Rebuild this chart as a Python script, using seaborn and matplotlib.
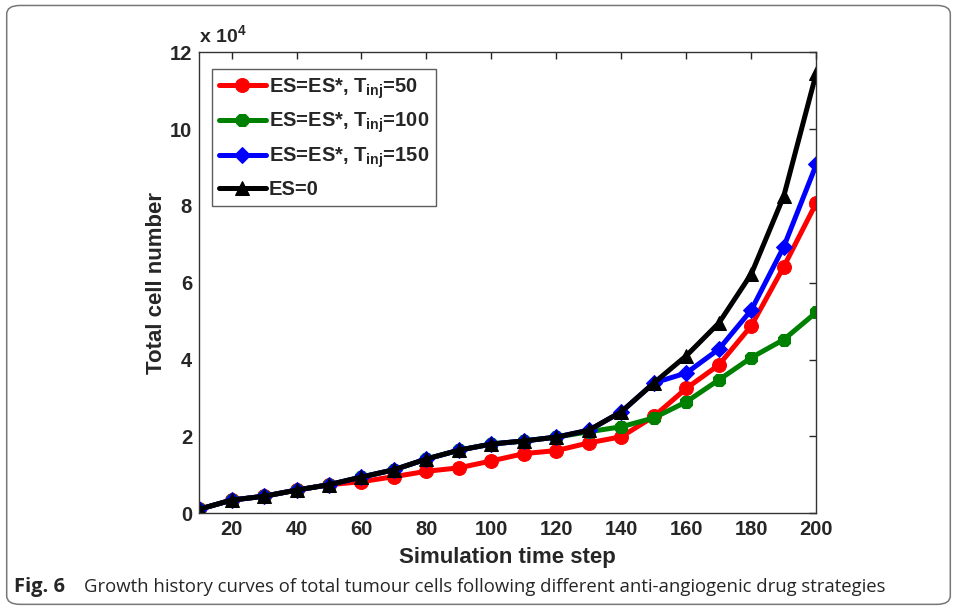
import numpy as np
import pandas as pd
import seaborn as sns
from matplotlib import pyplot as plt
from matplotlib.patches import FancyBboxPatch

# time steps and total cell numbers
steps = [10, 20, 30, 40, 50, 60, 70, 80, 90, 100, 110, 120, 130, 140, 150, 160, 170, 180, 190, 200]
es_zero = [1000, 3400, 4400, 6000, 7400, 9400, 11300, 14100, 16400, 18000, 18800, 19800, 21600, 26400, 33900,
           41000, 49500, 62300, 82600, 114600]
tinj_50 = [1000, 3400, 4400, 6000, 7400, 8200, 9500, 10900, 11800, 13600, 15500, 16300, 18300, 19900, 25200,
           32500, 38600, 48800, 64200, 80800]
tinj_100 = [1000, 3400, 4400, 6000, 7400, 9400, 11300, 14100, 16400, 18000, 18800, 19800, 21200, 22500, 24800,
            29000, 34700, 40500, 45200, 52300]
tinj_150 = [1000, 3400, 4400, 6000, 7400, 9400, 11300, 14100, 16400, 18000, 18800, 19800, 21600, 26400, 33900,
            36500, 42700, 52900, 69400, 90800]

labels = ['ES=ES*, T$_{\\mathbf{inj}}$=50', 'ES=ES*, T$_{\\mathbf{inj}}$=100',
          'ES=ES*, T$_{\\mathbf{inj}}$=150', 'ES=0']
series = [tinj_50, tinj_100, tinj_150, es_zero]
colors = ['#ff0000', '#008000', '#0000ff', '#000000']
markers = ['o', '8', 'D', '^']
msizes = [10, 10, 8, 10]

sns.set_style('white')
plt.rcParams['font.family'] = ['Liberation Sans', 'DejaVu Sans']
plt.rcParams['mathtext.fontset'] = 'custom'
plt.rcParams['mathtext.bf'] = 'Liberation Sans:bold'
plt.rcParams['mathtext.rm'] = 'Liberation Sans:bold'

fig = plt.figure(figsize=(9.57, 6.08), dpi=100)
ax = fig.add_axes([0.208, 0.156, 0.645, 0.758])

for lab, vals, c, m, ms in zip(labels, series, colors, markers, msizes):
    df = pd.DataFrame({'step': steps, 'cells': np.array(vals) / 1e4})
    sns.lineplot(data=df, x='step', y='cells', ax=ax, color=c, marker=m, markersize=ms,
                 markeredgecolor=c, linewidth=3.6, label=lab)

ax.set_xlim(10, 200)
ax.set_ylim(0, 12)
ax.set_xticks(range(20, 201, 20))
ax.set_yticks(range(0, 13, 2))
ax.tick_params(direction='in', length=5, width=1, top=True, right=True, labelsize=14.5, pad=5)
for t in ax.get_xticklabels() + ax.get_yticklabels():
    t.set_fontweight('bold')
for s in ax.spines.values():
    s.set_color('#333333')
    s.set_linewidth(1)

ax.set_xlabel('Simulation time step', fontsize=16, fontweight='bold', labelpad=6)
ax.set_ylabel('Total cell number', fontsize=16, fontweight='bold', labelpad=2)
ax.text(0.0, 1.012, 'x 10$^{4}$', transform=ax.transAxes, fontsize=14, fontweight='bold', ha='left', va='bottom')

leg = ax.legend(loc='upper left', bbox_to_anchor=(0.005, 0.985), prop={'weight': 'bold', 'size': 14.5},
                frameon=True, fancybox=False, edgecolor='#333333', handlelength=2.3, labelspacing=0.5,
                borderpad=0.35, handletextpad=0.15)
leg.get_frame().set_linewidth(1)

# outer frame and caption
frame = FancyBboxPatch((0.007, 0.006), 0.986, 0.985, boxstyle='round,pad=0,rounding_size=0.014',
                       transform=fig.transFigure, fill=False, edgecolor='#777777', linewidth=1.1)
fig.patches.append(frame)
fig.text(0.015, 0.027, 'Fig. 6', fontsize=14.5, fontweight='bold', family=['Open Sans', 'DejaVu Sans'],
         va='baseline')
fig.text(0.088, 0.027, 'Growth history curves of total tumour cells following different anti-angiogenic drug strategies',
         fontsize=13.3, family=['Open Sans', 'DejaVu Sans'], va='baseline')

fig.savefig('out.png', dpi=100)
